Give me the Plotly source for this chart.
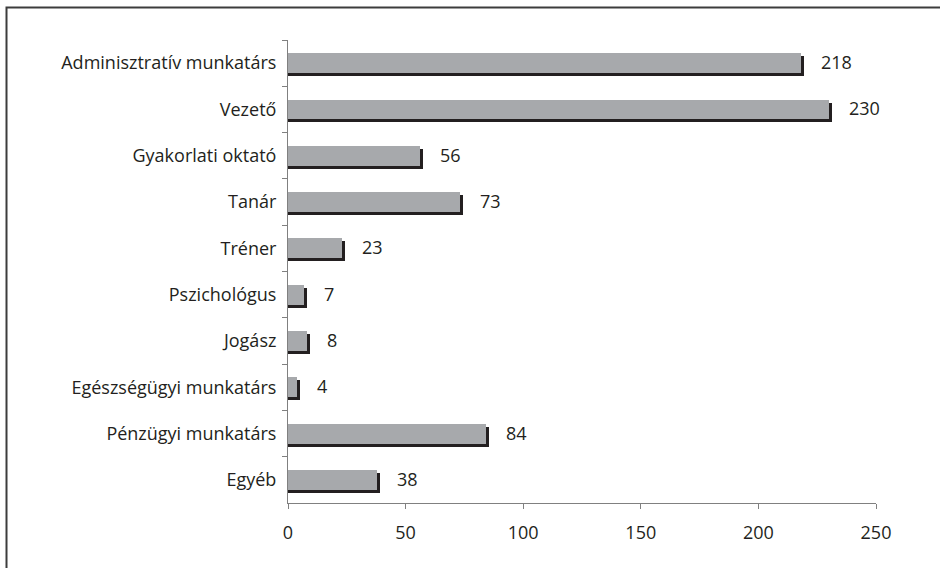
import plotly.graph_objects as go

categories = ["Adminisztratív munkatárs", "Vezető", "Gyakorlati oktató", "Tanár", "Tréner",
              "Pszichológus", "Jogász", "Egészségügyi munkatárs", "Pénzügyi munkatárs", "Egyéb"]
values = [218, 230, 56, 73, 23, 7, 8, 4, 84, 38]
x_ticks = [0, 50, 100, 150, 200, 250]

W, H = 940, 568
L, R, T, B = 288, 64, 40, 65
plot_w = W - L - R
plot_h = H - T - B
units_per_px = 250 / plot_w
rows_per_px = len(categories) / plot_h

bar_w = 0.43
shadow_dx = 3 * units_per_px
shadow_dy = 3 * rows_per_px

ink = "#231f20"
font = dict(family="Open Sans, Noto Sans, sans-serif", size=18, color=ink)

fig = go.Figure()
fig.add_trace(go.Bar(
    y=categories, x=[v + shadow_dx for v in values], orientation="h",
    width=bar_w, offset=-bar_w / 2 + shadow_dy,
    marker=dict(color=ink, line=dict(width=0)), hoverinfo="skip", showlegend=False,
))
fig.add_trace(go.Bar(
    y=categories, x=values, orientation="h",
    width=bar_w, offset=-bar_w / 2,
    marker=dict(color="#a7a9ac", line=dict(width=0)), showlegend=False,
))

for c, v in zip(categories, values):
    fig.add_annotation(x=v, y=c, text=str(v), showarrow=False, xanchor="left",
                       xshift=18, yshift=1, font=font)

# outer frame
def px_x(p):
    return (p - L) / plot_w

def px_y(p):
    return (H - B - p) / plot_h

fig.add_shape(type="rect", xref="paper", yref="paper",
              x0=px_x(6.5), x1=px_x(980), y0=px_y(620), y1=px_y(7.5),
              line=dict(color="#3c3c3c", width=2), fillcolor="rgba(0,0,0,0)", layer="above")

fig.update_layout(
    width=W, height=H, margin=dict(l=L, r=R, t=T, b=B, pad=0),
    paper_bgcolor="white", plot_bgcolor="white",
    barmode="overlay", bargap=0, font=font,
    xaxis=dict(range=[0, 250], tickvals=x_ticks, ticks="outside", ticklen=5,
               tickcolor="#808080", showline=True, linecolor="#808080", linewidth=1,
               showgrid=False, zeroline=False, tickfont=font, ticklabelstandoff=8,
               fixedrange=True),
    yaxis=dict(type="category", categoryorder="array", categoryarray=categories,
               autorange="reversed", ticks="outside", ticklen=5, tickson="boundaries",
               tickcolor="#808080", showline=True, linecolor="#808080", linewidth=1,
               showgrid=False, zeroline=False, tickfont=font, ticklabelstandoff=7,
               fixedrange=True),
)

fig.write_html("out.html", config={"displayModeBar": False},
               post_script="document.body.style.margin='0';document.body.style.overflow='hidden';")
